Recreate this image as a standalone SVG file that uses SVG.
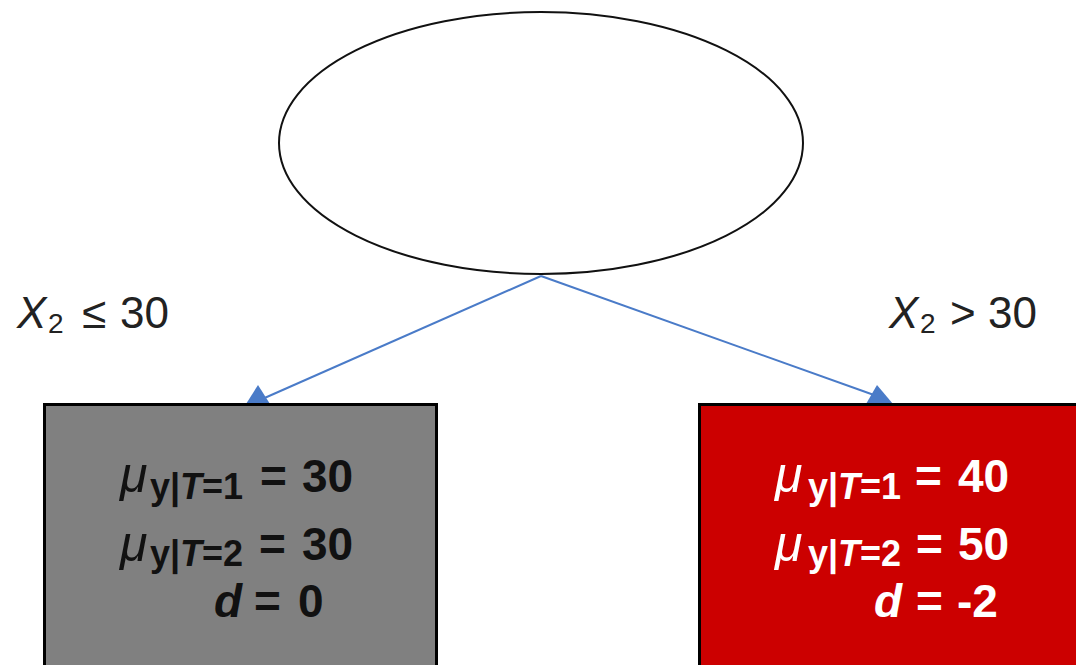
<svg xmlns="http://www.w3.org/2000/svg" width="1076" height="665" viewBox="0 0 1076 665">
<style>
.lbl{font-family:"Liberation Sans",Arial,sans-serif;font-size:44px;fill:#222}
.sub{font-size:28px}
.m{font-family:"Liberation Sans",Arial,sans-serif;font-weight:bold;font-size:46px}
.mu{font-style:italic;font-size:50px;font-weight:normal}
.it{font-style:italic}
.s{font-size:36px}
.dark{fill:#111}
.light{fill:#fff}
.conn{stroke:#4a7bc8;stroke-width:2;fill:none}
.head{fill:#4a7bc8}
</style>
<rect width="1076" height="665" fill="#fff"/>
<g id="root">
<ellipse cx="541" cy="143" rx="262" ry="131" fill="#fff" stroke="#111" stroke-width="2"/>
</g>
<g id="connectors">
<line class="conn" x1="541" y1="276" x2="260" y2="400"/>
<polygon class="head" points="246,404 258,385 270,404"/>
<line class="conn" x1="541" y1="276" x2="874" y2="395"/>
<polygon class="head" points="866,404 877,385 893,404"/>
</g>
<g id="label-left" class="lbl">
<text x="17" y="328" font-style="italic">X</text>
<text class="sub" x="48" y="333">2</text>
<text x="82" y="328">≤</text>
<text x="120" y="328">30</text>
</g>
<g id="label-right" class="lbl">
<text x="889" y="328" font-style="italic">X</text>
<text class="sub" x="920" y="333">2</text>
<text x="950" y="328">&gt;</text>
<text x="988" y="328">30</text>
</g>
<g id="leaf-left" class="m dark">
<rect x="44.5" y="404.5" width="392" height="280" fill="#808080" stroke="#000" stroke-width="3"/>
<text class="mu" x="120" y="492">μ</text>
<text class="s" x="150" y="499">y|<tspan class="it">T</tspan>=1</text>
<text x="260" y="492">=</text>
<text x="302" y="492">30</text>
<text class="mu" x="120" y="561">μ</text>
<text class="s" x="150" y="566">y|<tspan class="it">T</tspan>=2</text>
<text x="259" y="560">=</text>
<text x="302" y="560">30</text>
<text class="it" x="214" y="617">d</text>
<text x="254" y="617">=</text>
<text x="298" y="617">0</text>
</g>
<g id="leaf-right" class="m light">
<rect x="699.5" y="404.5" width="400" height="280" fill="#cc0000" stroke="#000" stroke-width="3"/>
<text class="mu" x="775" y="492">μ</text>
<text class="s" x="808" y="499">y|<tspan class="it">T</tspan>=1</text>
<text x="915" y="492">=</text>
<text x="958" y="492">40</text>
<text class="mu" x="775" y="561">μ</text>
<text class="s" x="808" y="566">y|<tspan class="it">T</tspan>=2</text>
<text x="916" y="560">=</text>
<text x="958" y="560">50</text>
<text class="it" x="874" y="617">d</text>
<text x="916" y="617">=</text>
<text x="957" y="617">-2</text>
</g>
</svg>
